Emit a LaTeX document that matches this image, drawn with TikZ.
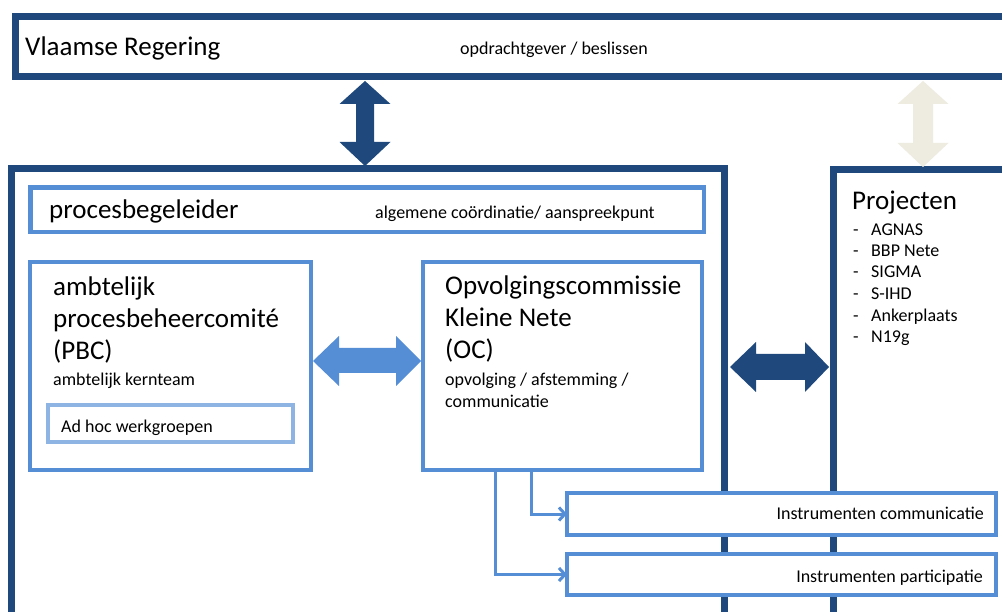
\documentclass[tikz,border=0pt]{standalone}
\usepackage{fontspec}
\setmainfont{Carlito}
\usetikzlibrary{arrows.meta}

\definecolor{darkblue}{HTML}{1F497D}
\definecolor{midblue}{HTML}{558ED5}
\definecolor{paleblue}{HTML}{8EB4E3}
\definecolor{sand}{HTML}{EEECE1}

\begin{document}
\begin{tikzpicture}[x=1pt, y=-1pt,
	darkbox/.style={draw=darkblue, line width=7pt, outer sep=0pt, inner sep=0pt, anchor=north west},
	lightbox/.style={draw=midblue, line width=4.5pt, fill=white, outer sep=0pt, inner sep=0pt, anchor=north west},
	bigtxt/.style={font=\fontsize{27}{32}\selectfont, inner sep=0pt, anchor=base west},
	smalltxt/.style={font=\fontsize{18}{21}\selectfont, inner sep=0pt, anchor=base west},
	link/.style={draw=midblue, line width=3pt, -{Straight Barb[length=6pt, width=13pt]}}]
		\useasboundingbox (0,0) rectangle (1002,612);
		\clip (0,0) rectangle (1002,612);
		\fill [white] (0,0) rectangle (1002,612);
		
		% outer frames
		\node [darkbox, minimum width=1000pt, minimum height=60.5pt] (vr) at (15,16.5) {};
		\node [darkbox, minimum width=712.5pt, minimum height=470pt] (proc) at (11.5,169) {};
		\node [darkbox, minimum width=190pt, minimum height=470pt] (proj) at (833,170) {};
		
		% inner boxes
		\node [lightbox, minimum width=673.5pt, minimum height=44.5pt] (pbg) at (30.5,187.5) {};
		\node [lightbox, minimum width=281pt, minimum height=208pt] (pbc) at (30,262) {};
		\node [lightbox, draw=paleblue, line width=3.5pt, minimum width=245pt, minimum height=37pt] (adhoc) at (48,405) {};
		\node [lightbox, minimum width=279pt, minimum height=208pt] (oc) at (423,262) {};
		\node [lightbox, line width=4pt, minimum width=429pt, minimum height=42pt] (ic) at (567,493) {};
		\node [lightbox, line width=4pt, minimum width=429pt, minimum height=41pt] (ip) at (567,554) {};
		
		% block arrows
		\fill [darkblue] (365,81) -- (390.5,104) -- (374,104) -- (374,142) -- (390.5,142) -- (365,166)
			-- (339.5,142) -- (356,142) -- (356,104) -- (339.5,104) -- cycle;
		\fill [sand] (923,81) -- (948.5,104) -- (933,104) -- (933,143) -- (948.5,143) -- (923,167)
			-- (897.5,143) -- (913,143) -- (913,104) -- (897.5,104) -- cycle;
		\fill [midblue] (313,361) -- (339,336) -- (339,348) -- (396,348) -- (396,336) -- (421,361)
			-- (396,386) -- (396,373) -- (339,373) -- (339,386) -- cycle;
		\fill [darkblue] (730,367) -- (756,342) -- (756,354) -- (805,354) -- (805,342) -- (829,367)
			-- (805,392) -- (805,380) -- (756,380) -- (756,392) -- cycle;
		
		% texts
		\node [bigtxt] (vrname) at (25,56) {Vlaamse Regering};
		\node [smalltxt] (vrrole) at (460,55) {opdrachtgever / beslissen};
		
		\node [bigtxt] (pbgname) at (49,219) {procesbegeleider};
		\node [smalltxt] (pbgrole) at (375,219) {algemene coördinatie/ aanspreekpunt};
		
		\node [bigtxt] (pbca) at (53,296) {ambtelijk};
		\node [bigtxt] (pbcb) at (53,328) {procesbeheercomité};
		\node [bigtxt] (pbcc) at (53,360) {(PBC)};
		\node [smalltxt] (pbcrole) at (53,385) {ambtelijk kernteam};
		\node [smalltxt] (adhoctxt) at (61,432) {Ad hoc werkgroepen};
		
		\node [bigtxt] (oca) at (445,295) {Opvolgingscommissie};
		\node [bigtxt] (ocb) at (445,327) {Kleine Nete};
		\node [bigtxt] (occ) at (445,359) {(OC)};
		\node [smalltxt] (ocrolea) at (445,386) {opvolging / afstemming /};
		\node [smalltxt] (ocroleb) at (445,407) {communicatie};
		
		\node [bigtxt] (projname) at (852,210) {Projecten};
		\node [smalltxt] at (853,236) {-};
		\node [smalltxt] (pa) at (871,236) {AGNAS};
		\node [smalltxt] at (853,257) {-};
		\node [smalltxt] (pb) at (871,257) {BBP Nete};
		\node [smalltxt] at (853,278) {-};
		\node [smalltxt] (pc) at (871,278) {SIGMA};
		\node [smalltxt] at (853,300) {-};
		\node [smalltxt] (pd) at (871,300) {S-IHD};
		\node [smalltxt] at (853,322) {-};
		\node [smalltxt] (pe) at (871,322) {Ankerplaats};
		\node [smalltxt] at (853,343) {-};
		\node [smalltxt] (pf) at (871,343) {N19g};
		
		\node [smalltxt, anchor=base east] (ictxt) at (984,519) {Instrumenten communicatie};
		\node [smalltxt, anchor=base east] (iptxt) at (983,582) {Instrumenten participatie};
		
		% links to instruments
		\draw [link] (oc.south west) ++(108,0) |- (ic.west);
		\draw [link] (oc.south west) ++(72,0) |- (ip.west);
		
\end{tikzpicture}
\end{document}
